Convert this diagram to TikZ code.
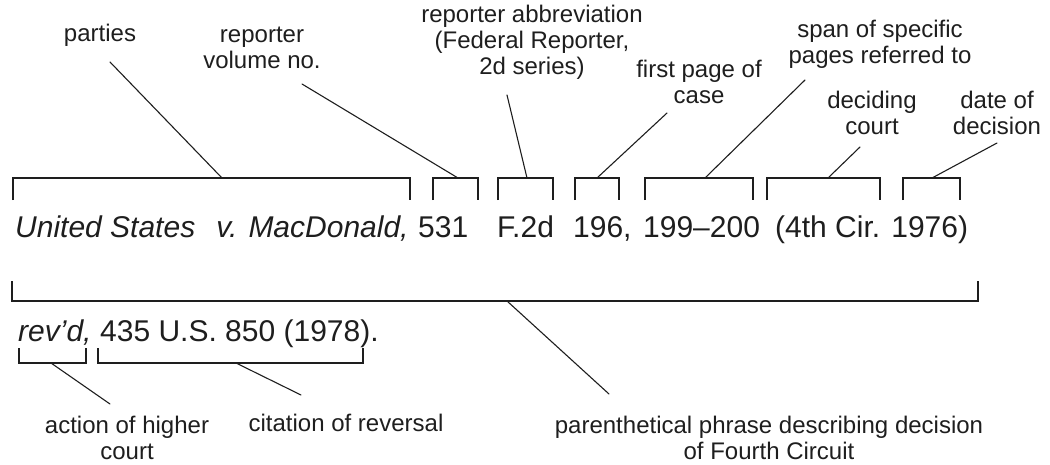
\documentclass[tikz,border=0pt]{standalone}
\usepackage{fontspec}
\setmainfont{Liberation Sans}
\usepackage{tikz}
\usetikzlibrary{positioning}
\definecolor{ink}{HTML}{1E1E1E}
\tikzset{
  brace/.style={draw=ink, line width=1.1pt, line join=miter},
  lead/.style={draw=ink, line width=1.1pt, line cap=round},
  cite/.style={text=ink, inner sep=0pt, anchor=base west, font=\fontsize{30}{36}\selectfont},
  lab/.style={text=ink, inner sep=0pt, align=center, font=\fontsize{24}{26}\selectfont},
}

\begin{document}
\begin{tikzpicture}[x=1pt,y=-1pt]
  \useasboundingbox (0,0) rectangle (1050,464);
  % the citation
  \node[cite] (cParties) at (15,237.5) {\itshape United States\hspace{0.7em}v. MacDonald,};
  \node[cite] (cVol) at (418,237.5) {531};
  \node[cite] (cRep) at (497,237.5) {F.2d};
  \node[cite] (cFirst) at (573,237.5) {196,};
  \node[cite] (cSpan) at (643,237.5) {199--200};
  \node[cite] (cCourt) at (775,237.5) {(4th Cir. 1976)};
  \node[cite] (cRevd) at (18,341) {\itshape rev'd,};
  \node[cite] (cRev) at (100,341) {435 U.S. 850 (1978).};
  % brackets over the parts
  \foreach \a/\b/\t/\n in {13/410/222/Parties, 433/478/458/Vol, 498/553/527/Abbr,
      575/619/597/First, 645/753/705/Span, 767/880/828/Court, 903/960/932/Date}{
    \draw[brace] (\a,200) |- (\b,178) -- (\b,200);
    \coordinate (k\n) at (\t,178);
  }
  % brackets under the parts
  \draw[brace] (12,281) |- (978,301) -- (978,281);
  \coordinate (kParen) at (507,301);
  \draw[brace] (19,348) |- (86,363) -- (86,348);
  \coordinate (kAction) at (51,363);
  \draw[brace] (98,348) |- (363,363) -- (363,348);
  \coordinate (kCite) at (236,363);
  % labels
  \node[lab] (lParties) at (100,35) {parties};
  \node[lab] (lVol) at (262,47.5) {reporter\\volume no.};
  \node[lab] (lAbbr) at (532,42) {reporter abbreviation\\(Federal Reporter,\\2d series)};
  \node[lab] (lFirst) at (699,82) {first page of\\case};
  \node[lab] (lSpan) at (880,44) {span of specific\\pages referred to};
  \node[lab] (lCourt) at (872,113) {deciding\\court};
  \node[lab] (lDate) at (997,113) {date of\\decision};
  \node[lab] (lAction) at (127,438) {action of higher\\court};
  \node[lab, anchor=base] (lCite) at (346,431) {citation of reversal};
  \node[lab] (lParen) at (769,438) {parenthetical phrase describing decision\\of Fourth Circuit};
  % free ends of the leaders
  \coordinate (tParties) at (110,62);
  \coordinate (tVol) at (302,84);
  \coordinate (tAbbr) at (507,95);
  \coordinate (tFirst) at (667,113);
  \coordinate (tSpan) at (805,80);
  \coordinate (tCourt) at (860,147);
  \coordinate (tDate) at (997,143);
  \coordinate (tParen) at (609,394);
  \coordinate (tAction) at (110,404);
  \coordinate (tCite) at (301,395);
  \foreach \n in {Parties,Vol,Abbr,First,Span,Court,Date,Paren,Action,Cite}
    \draw[lead] (k\n) -- (t\n);
\end{tikzpicture}
\end{document}
